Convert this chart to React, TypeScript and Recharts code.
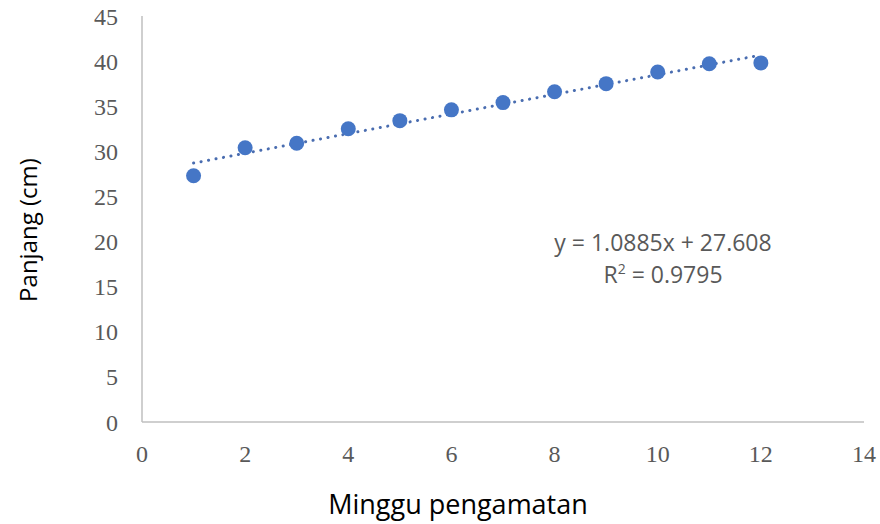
import { ScatterChart, Scatter, XAxis, YAxis, Label } from "recharts";

const weeks = [1, 2, 3, 4, 5, 6, 7, 8, 9, 10, 11, 12];
const lengths = [27.3, 30.4, 30.9, 32.5, 33.4, 34.6, 35.4, 36.6, 37.5, 38.8, 39.7, 39.8];
const xTicks = [0, 2, 4, 6, 8, 10, 12, 14];
const yTicks = [0, 5, 10, 15, 20, 25, 30, 35, 40, 45];
const slope = 1.0885;
const intercept = 27.608;

const points = weeks.map((w, i) => ({ x: w, y: lengths[i] }));
const trend = [weeks[0], weeks[weeks.length - 1]].map((w) => ({ x: w, y: slope * w + intercept }));

const tickStyle = { fontFamily: "Liberation Serif, serif", fontSize: 24, fill: "#595959" };
const titleFont = "Open Sans, sans-serif";

export default function App() {
  return (
    <div style={{ position: "absolute", left: 0, top: 0, width: 880, height: 524, background: "#fff" }}>
      <ScatterChart width={880} height={524} margin={{ top: 16, right: 16, left: 0, bottom: 0 }}>
        <XAxis
          type="number"
          dataKey="x"
          domain={[0, 14]}
          ticks={xTicks}
          tickLine={false}
          axisLine={{ stroke: "#bfbfbf", strokeWidth: 1.5 }}
          tick={tickStyle}
          tickMargin={17}
          height={102}
        >
          <Label
            content={() => (
              <text x={458} y={514} textAnchor="middle" fontFamily={titleFont} fontSize={27} fill="#000">
                Minggu pengamatan
              </text>
            )}
          />
        </XAxis>
        <YAxis
          type="number"
          dataKey="y"
          domain={[0, 45]}
          ticks={yTicks}
          tickLine={false}
          axisLine={{ stroke: "#bfbfbf", strokeWidth: 1.5 }}
          tick={tickStyle}
          tickMargin={18}
          width={142}
        >
          <Label
            content={() => (
              <text
                x={37}
                y={230}
                transform="rotate(-90 37 230)"
                textAnchor="middle"
                fontFamily={titleFont}
                fontSize={24}
                fill="#000"
              >
                Panjang (cm)
              </text>
            )}
          />
        </YAxis>
        <Scatter
          data={trend}
          line={{ stroke: "#4a6db0", strokeWidth: 3, strokeDasharray: "0.1 7.5", strokeLinecap: "round" }}
          shape={() => null}
          isAnimationActive={false}
        />
        <Scatter
          data={points}
          fill="#4576c6"
          isAnimationActive={false}
          shape={(p: any) => <circle cx={p.cx} cy={p.cy} r={7.5} fill="#4576c6" />}
        />
      </ScatterChart>
      <div
        style={{
          position: "absolute",
          left: 513,
          top: 226,
          width: 300,
          textAlign: "center",
          fontFamily: titleFont,
          fontSize: 23,
          lineHeight: "32px",
          color: "#595959",
        }}
      >
        <div>y = 1.0885x + 27.608</div>
        <div>
          R<sup style={{ fontSize: 14, verticalAlign: "9px", lineHeight: 0 }}>2</sup> = 0.9795
        </div>
      </div>
    </div>
  );
}
